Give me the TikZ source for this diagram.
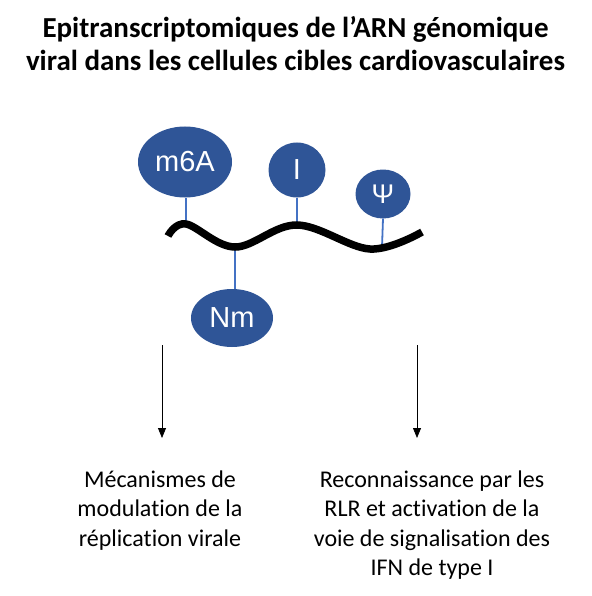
\documentclass[tikz,border=0pt]{standalone}
\usepackage{fontspec}
\setmainfont{Carlito}[Ligatures=NoCommon]
\newfontfamily\arialfont{Liberation Sans}
\usetikzlibrary{arrows.meta,shapes.geometric}
\definecolor{modblue}{RGB}{47,85,151}
\definecolor{stemblue}{RGB}{68,114,196}
\begin{document}
\begin{tikzpicture}[
    x=1pt, y=-1pt,
    mod/.style={ellipse, fill=modblue, text=white, inner sep=0pt, font=\arialfont\fontsize{29}{30}\selectfont},
    stem/.style={draw=stemblue, line width=1.8pt},
    rna/.style={line width=7.5pt},
    arrow/.style={-{Triangle[width=8pt,length=10pt]}, line width=0.8pt},
    caption/.style={align=center, font=\fontsize{24}{29.5}\selectfont, anchor=north}
]
\useasboundingbox (0,0) rectangle (591,596);

% Title
\node[align=center, font=\bfseries\fontsize{29}{33}\selectfont, anchor=north] (title) at (295.5,13) {
    Epitranscriptomiques de l’ARN génomique\\
    viral dans les cellules cibles cardiovasculaires
};

% Modifications
\node[mod, minimum width=94pt, minimum height=71pt] (m6A) at (185,162) {m6A};
\node[mod, minimum width=57pt, minimum height=55pt] (ino) at (297,170) {I};
\node[mod, minimum width=55pt, minimum height=49pt, font=\arialfont\fontsize{27}{30}\selectfont] (psi) at (383,194) {Ψ};
\node[mod, minimum width=82pt, minimum height=58pt] (Nm) at (232,318) {Nm};

% Anchoring points on the RNA
\coordinate (wm6A) at (186,224);
\coordinate (wNm) at (235,247);
\coordinate (wino) at (297,225);
\coordinate (wpsi) at (382,247);

% Stems
\draw[stem] (m6A.south -| wm6A) -- (wm6A);
\draw[stem] (ino.south) -- (wino);
\draw[stem] (psi.south) -- (wpsi);
\draw[stem] (wNm) -- (Nm.north -| wNm);

% RNA strand
\draw[rna] plot[smooth, tension=0.6] coordinates {(168,236) (wm6A) (wNm) (wino) (370,249) (422,232)};

% Outcomes
\node[caption] (capL) at (160,467) {
    Mécanismes de\\
    modulation de la\\
    réplication virale
};
\node[caption] (capR) at (432,467) {
    Reconnaissance par les\\
    RLR et activation de la\\
    voie de signalisation des\\
    IFN de type I
};

% Arrows
\coordinate (arrL) at (162,345);
\coordinate (arrLend) at (162,438);
\coordinate (arrR) at (417,345);
\coordinate (arrRend) at (417,438);
\draw[arrow] (arrL) -- (arrLend);
\draw[arrow] (arrR) -- (arrRend);

\end{tikzpicture}
\end{document}
